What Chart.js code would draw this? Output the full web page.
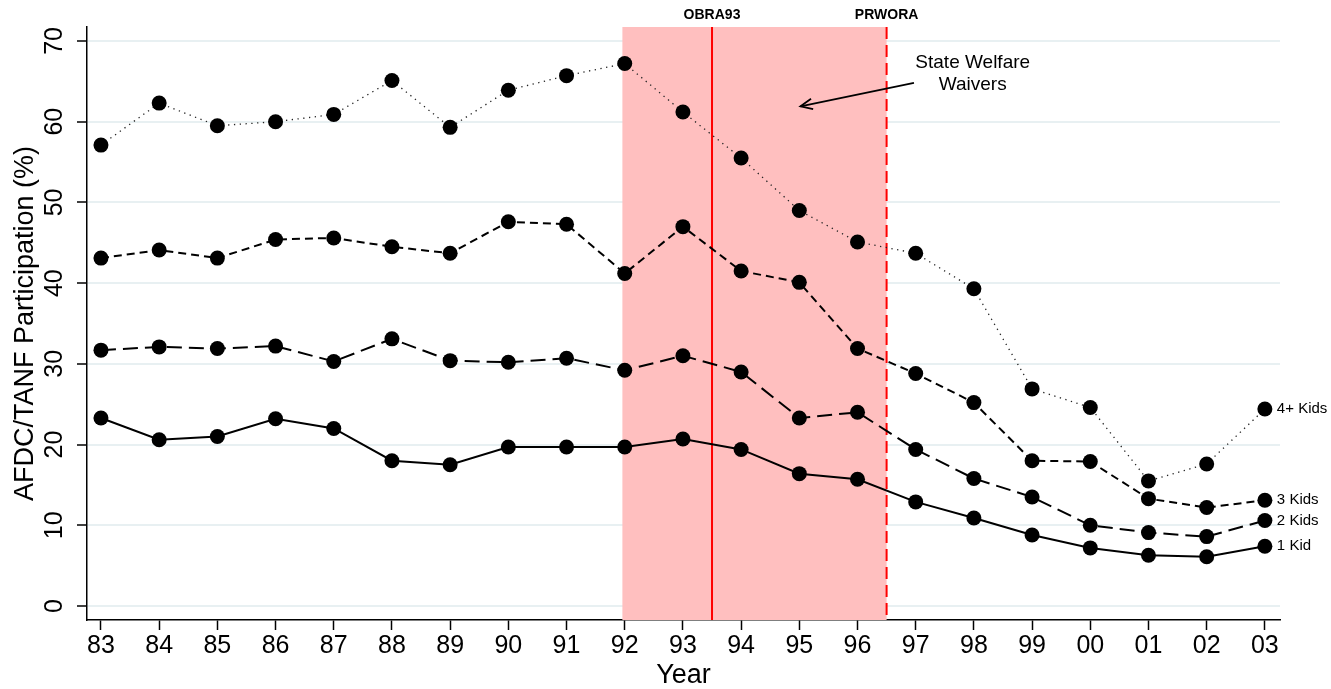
<!DOCTYPE html>
<html>
<head>
<meta charset="utf-8">
<script src="https://cdn.jsdelivr.net/npm/chart.js@4.4.1/dist/chart.umd.min.js"></script>
<style>
  html, body { margin: 0; padding: 0; background: #fff; }
  #wrap { width: 1331px; height: 689px; }
</style>
</head>
<body>
<div id="wrap"><canvas id="c" width="1331" height="689"></canvas></div>
<script>
// ---- data ----
const yearLabels = ['83','84','85','86','87','88','89','90','91','92','93','94','95','96','97','98','99','00','01','02','03'];
const kids4 = [57.1,62.3,59.5,60.0,60.9,65.1,59.3,63.9,65.7,67.2,61.2,55.5,49.0,45.1,43.7,39.3,26.9,24.6,15.5,17.6,24.4];
const kids3 = [43.1,44.1,43.1,45.4,45.6,44.5,43.7,47.6,47.3,41.2,47.0,41.5,40.1,31.9,28.8,25.2,18.0,17.9,13.3,12.2,13.1];
const kids2 = [31.7,32.1,31.9,32.2,30.3,33.1,30.4,30.2,30.7,29.2,31.0,29.0,23.3,24.0,19.4,15.8,13.5,10.0,9.1,8.6,10.6];
const kid1  = [23.3,20.6,21.0,23.2,22.0,18.0,17.5,19.7,19.7,19.7,20.7,19.4,16.4,15.7,12.9,10.9,8.8,7.2,6.3,6.1,7.4];
const seriesNames = ['4+ Kids','3 Kids','2 Kids','1 Kid'];
const yTicks = [0,10,20,30,40,50,60,70];
// policy events (x in year-index units)
const waiverStart = 8.96;   // 92
const obra93 = 10.5;        // OBRA93
const prwora = 13.5;        // PRWORA
const eventNames = ['OBRA93','PRWORA'];
const annoText = ['State Welfare', 'Waivers'];

const toPts = arr => arr.map((v, i) => ({x: i, y: v}));

const FONT = '"Liberation Sans", Arial, Helvetica, sans-serif';

const common = {
  pointRadius: 7.5, pointHoverRadius: 7.5, pointBorderWidth: 0,
  pointBackgroundColor: '#000', borderColor: '#000', backgroundColor: '#000',
  fill: false, tension: 0
};

const overlay = {
  id: 'overlay',
  beforeDatasetsDraw(chart) {
    const {ctx, chartArea: a, scales: {x, y}} = chart;
    const x0 = x.getPixelForValue(waiverStart), x1 = x.getPixelForValue(prwora);
    ctx.save();
    ctx.fillStyle = '#ffbfbf';
    ctx.fillRect(x0, a.top, x1 - x0, a.bottom - a.top);
    ctx.strokeStyle = '#ff0000';
    ctx.lineWidth = 2;
    const xo = x.getPixelForValue(obra93);
    ctx.beginPath(); ctx.moveTo(xo, a.top); ctx.lineTo(xo, a.bottom); ctx.stroke();
    ctx.setLineDash([12, 6]);
    ctx.beginPath(); ctx.moveTo(x1, a.top); ctx.lineTo(x1, a.bottom); ctx.stroke();
    ctx.restore();
  },
  afterDraw(chart) {
    const {ctx, chartArea: a, scales: {x, y}} = chart;
    ctx.save();
    // event labels
    ctx.fillStyle = '#000';
    ctx.font = 'bold 14px ' + FONT;
    ctx.textAlign = 'center'; ctx.textBaseline = 'middle';
    ctx.fillText(eventNames[0], x.getPixelForValue(obra93), a.top - 12);
    ctx.fillText(eventNames[1], x.getPixelForValue(prwora), a.top - 12);
    // annotation text
    ctx.font = '19px ' + FONT;
    const tx = x.getPixelForValue(14.98);
    ctx.fillText(annoText[0], tx, y.getPixelForValue(67.3));
    ctx.fillText(annoText[1], tx, y.getPixelForValue(64.6));
    // arrow
    const sx = x.getPixelForValue(13.97), sy = y.getPixelForValue(64.8);
    const ex = x.getPixelForValue(12.02), ey = y.getPixelForValue(61.9);
    ctx.strokeStyle = '#000'; ctx.lineWidth = 1.8;
    ctx.beginPath(); ctx.moveTo(sx, sy); ctx.lineTo(ex, ey); ctx.stroke();
    const ang = Math.atan2(sy - ey, sx - ex);
    const hl = 13, ha = 0.42;
    ctx.beginPath();
    ctx.moveTo(ex + hl * Math.cos(ang + ha), ey + hl * Math.sin(ang + ha));
    ctx.lineTo(ex, ey);
    ctx.lineTo(ex + hl * Math.cos(ang - ha), ey + hl * Math.sin(ang - ha));
    ctx.stroke();
    // end-of-line series labels
    ctx.font = '15px ' + FONT;
    ctx.textAlign = 'left';
    chart.data.datasets.forEach((ds, i) => {
      const meta = chart.getDatasetMeta(i);
      const last = meta.data[meta.data.length - 1];
      ctx.fillText(seriesNames[i], last.x + 12, last.y);
    });
    ctx.restore();
  }
};

new Chart(document.getElementById('c'), {
  type: 'line',
  data: {
    datasets: [
      Object.assign({label: seriesNames[0], data: toPts(kids4), borderWidth: 1.3, borderDash: [1.3, 4.5]}, common, {borderColor: '#222'}),
      Object.assign({label: seriesNames[1], data: toPts(kids3), borderWidth: 2, borderDash: [8, 5]}, common),
      Object.assign({label: seriesNames[2], data: toPts(kids2), borderWidth: 2, borderDash: [15, 7]}, common),
      Object.assign({label: seriesNames[3], data: toPts(kid1), borderWidth: 2}, common)
    ]
  },
  options: {
    responsive: false,
    animation: false,
    layout: { padding: { top: 27, right: 51, left: 0, bottom: 0 } },
    plugins: { legend: { display: false }, tooltip: { enabled: false } },
    scales: {
      x: {
        type: 'linear',
        min: -0.24, max: 20.26,
        afterBuildTicks: s => { s.ticks = yearLabels.map((_, i) => ({value: i})); },
        afterFit: s => { s.height = 69; },
        ticks: {
          autoSkip: false, maxRotation: 0, minRotation: 0,
          color: '#000', padding: 1,
          font: { family: FONT, size: 25 },
          callback: (v) => yearLabels[v]
        },
        grid: { drawOnChartArea: false, tickColor: '#000', tickLength: 10, tickWidth: 1.5 },
        border: { color: '#000', width: 1.5 },
        title: { display: true, text: 'Year', color: '#000', font: { family: FONT, size: 27 }, padding: { top: 0, bottom: -3 } }
      },
      y: {
        type: 'linear',
        min: -1.73, max: 71.73,
        afterBuildTicks: s => { s.ticks = yTicks.map(v => ({value: v})); },
        afterFit: s => { s.width = 87; },
        ticks: {
          minRotation: 90, maxRotation: 90, crossAlign: 'center',
          color: '#000', padding: 8,
          font: { family: FONT, size: 25 }
        },
        grid: { color: '#e8f0f2', lineWidth: 2, tickColor: '#000', tickLength: 10, tickWidth: 1.5 },
        border: { color: '#000', width: 1.5 },
        title: { display: true, text: 'AFDC/TANF Participation (%)', color: '#000', font: { family: FONT, size: 27 }, padding: { top: 9, bottom: 0 } }
      }
    }
  },
  plugins: [overlay]
});
</script>
</body>
</html>
